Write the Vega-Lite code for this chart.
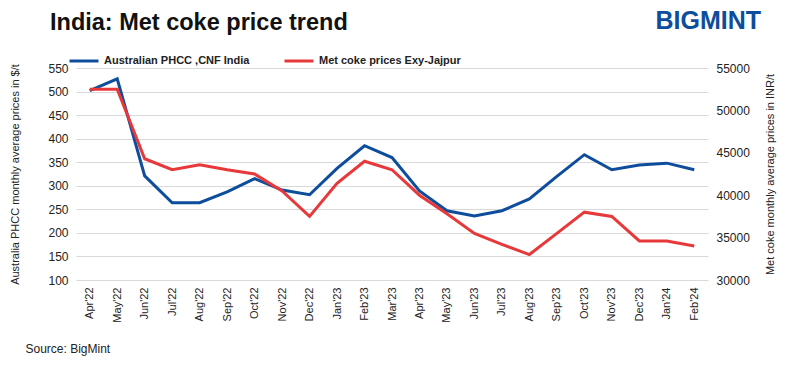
{
  "$schema": "https://vega.github.io/schema/vega-lite/v6.json",
  "width": 632,
  "height": 212,
  "autosize": {"type": "none"},
  "padding": {"left": 76, "top": 68, "right": 82, "bottom": 91},
  "background": "white",
  "config": {
    "font": "Liberation Sans",
    "view": {"stroke": null},
    "axis": {
      "labelColor": "#222222",
      "titleColor": "#222222",
      "domain": false,
      "ticks": false,
      "labelFontSize": 12,
      "titleFontSize": 11,
      "titleFontWeight": "normal",
      "gridColor": "#d9d9d9"
    }
  },
  "title": {
    "text": "India: Met coke price trend",
    "anchor": "start",
    "frame": "group",
    "fontSize": 23.5,
    "fontWeight": "bold",
    "color": "#111111",
    "dx": -26,
    "offset": -26
  },
  "data": {
    "values": [
      {"month": "Apr'22", "phcc": 502, "inr": 52500},
      {"month": "May'22", "phcc": 527, "inr": 52500},
      {"month": "Jun'22", "phcc": 321, "inr": 44300},
      {"month": "Jul'22", "phcc": 264, "inr": 43000},
      {"month": "Aug'22", "phcc": 264, "inr": 43600},
      {"month": "Sep'22", "phcc": 287, "inr": 43000},
      {"month": "Oct'22", "phcc": 315, "inr": 42500},
      {"month": "Nov'22", "phcc": 291, "inr": 40500},
      {"month": "Dec'22", "phcc": 281, "inr": 37500},
      {"month": "Jan'23", "phcc": 337, "inr": 41400},
      {"month": "Feb'23", "phcc": 385, "inr": 44000},
      {"month": "Mar'23", "phcc": 360, "inr": 43000},
      {"month": "Apr'23", "phcc": 289, "inr": 40000},
      {"month": "May'23", "phcc": 247, "inr": 37800},
      {"month": "Jun'23", "phcc": 236, "inr": 35500},
      {"month": "Jul'23", "phcc": 247, "inr": 34200},
      {"month": "Aug'23", "phcc": 272, "inr": 33000},
      {"month": "Sep'23", "phcc": 320, "inr": 35500},
      {"month": "Oct'23", "phcc": 366, "inr": 38000},
      {"month": "Nov'23", "phcc": 334, "inr": 37500},
      {"month": "Dec'23", "phcc": 344, "inr": 34600},
      {"month": "Jan'24", "phcc": 348, "inr": 34600},
      {"month": "Feb'24", "phcc": 334, "inr": 34000}
    ]
  },
  "layer": [
    {
      "mark": {"type": "line", "strokeWidth": 3},
      "encoding": {
        "x": {
          "field": "month",
          "type": "ordinal",
          "sort": null,
          "scale": {"type": "point", "padding": 0.5},
          "axis": {
            "labelAngle": -90,
            "labelFontSize": 11,
            "labelPadding": 7,
            "grid": false,
            "title": "Source: BigMint",
            "titleAnchor": "start",
            "titleAlign": "left",
            "titleBaseline": "alphabetic",
            "titleX": -51,
            "titleY": 72,
            "titleFontSize": 12
          }
        },
        "y": {
          "field": "phcc",
          "type": "quantitative",
          "scale": {"domain": [100, 550], "zero": false},
          "axis": {
            "values": [100, 150, 200, 250, 300, 350, 400, 450, 500, 550],
            "title": "Australia PHCC monthly average prices in $/t",
            "labelPadding": 8,
            "titlePadding": 27
          }
        },
        "color": {
          "datum": "Australian PHCC ,CNF India",
          "type": "nominal",
          "scale": {
            "domain": ["Australian PHCC ,CNF India", "Met coke prices Exy-Jajpur"],
            "range": ["#0E4D9C", "#E8393A"]
          },
          "legend": {
            "orient": "none",
            "legendX": -8,
            "legendY": -23,
            "direction": "horizontal",
            "title": null,
            "symbolType": "stroke",
            "symbolSize": 841,
            "symbolStrokeWidth": 3,
            "labelFontSize": 11,
            "labelFontWeight": "bold",
            "labelColor": "#222222",
            "columnPadding": 28
          }
        }
      }
    },
    {
      "mark": {"type": "line", "strokeWidth": 3},
      "encoding": {
        "x": {"field": "month", "type": "ordinal", "sort": null},
        "y": {
          "field": "inr",
          "type": "quantitative",
          "scale": {"domain": [30000, 55000], "zero": false},
          "axis": {
            "orient": "right",
            "grid": false,
            "format": "d",
            "values": [30000, 35000, 40000, 45000, 50000, 55000],
            "title": "Met coke monthly average prices in INR/t",
            "titleAngle": -90,
            "labelPadding": 8,
            "titlePadding": 26
          }
        },
        "color": {"datum": "Met coke prices Exy-Jajpur", "type": "nominal"}
      }
    },
    {
      "data": {"values": [{"t": "BIGMINT"}]},
      "mark": {"type": "text", "fontSize": 25, "fontWeight": "bold", "color": "#0E4D9C", "baseline": "middle", "align": "center", "dx": 14, "clip": false},
      "encoding": {
        "text": {"field": "t"},
        "x": {"datum": "Feb'24", "type": "ordinal"},
        "y": {"datum": 650, "type": "quantitative", "scale": {"domain": [100, 550]}, "axis": null}
      }
    }
  ],
  "resolve": {"scale": {"y": "independent"}}
}
